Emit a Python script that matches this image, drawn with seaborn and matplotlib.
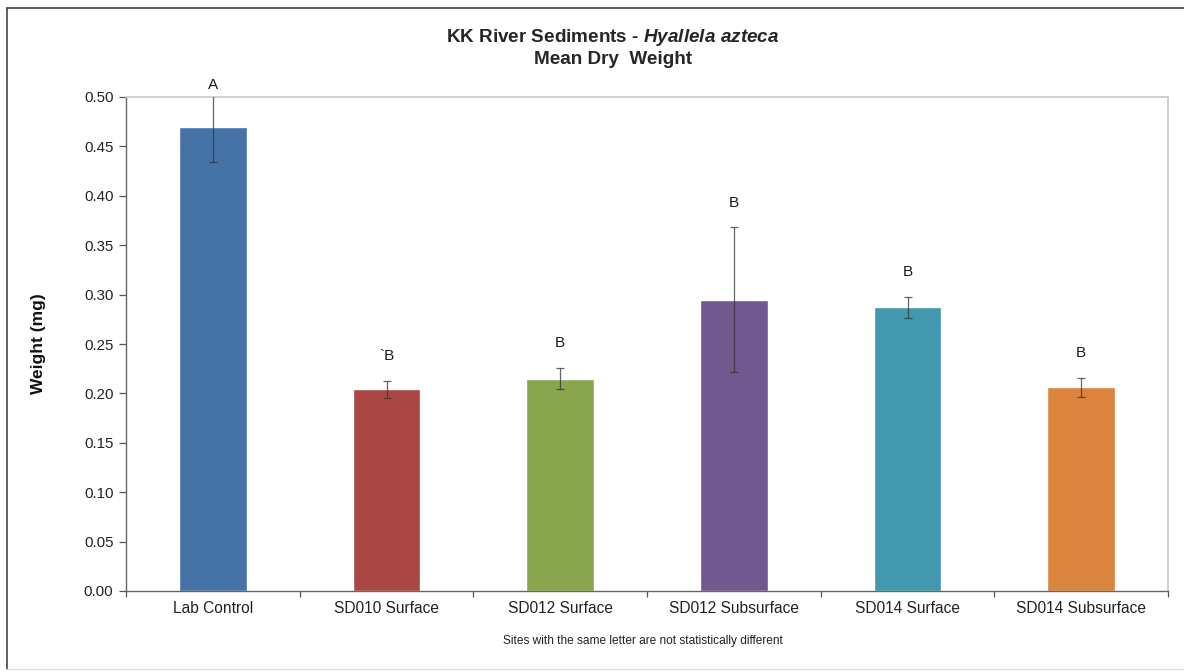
import matplotlib
matplotlib.use("Agg")
import matplotlib.pyplot as plt
from matplotlib.lines import Line2D
import seaborn as sns
import pandas as pd
import numpy as np

# Site data: mean dry weight (mg) with standard error and significance letters
sites = ["Lab Control", "SD010 Surface", "SD012 Surface", "SD012 Subsurface",
         "SD014 Surface", "SD014 Subsurface"]
mean_weight = [0.470, 0.204, 0.215, 0.295, 0.287, 0.206]
std_err = [0.036, 0.009, 0.011, 0.073, 0.011, 0.010]
letters = ["A", "`B", "B", "B", "B", "B"]
y_ticks = [0.00, 0.05, 0.10, 0.15, 0.20, 0.25, 0.30, 0.35, 0.40, 0.45, 0.50]

colors = ["#4572A7", "#AA4643", "#89A54E", "#71588F", "#4198AF", "#DB843D"]

sns.set_style("white")
plt.rcParams["font.family"] = ["Liberation Sans", "DejaVu Sans"]
plt.rcParams["mathtext.fontset"] = "custom"
plt.rcParams["mathtext.it"] = "Liberation Sans:italic:bold"
plt.rcParams["mathtext.rm"] = "Liberation Sans:bold"

df = pd.DataFrame({"site": sites, "weight": mean_weight})

fig = plt.figure(figsize=(11.84, 6.72), dpi=100)
ax = fig.add_axes([126 / 1184, 1 - 591 / 672, (1168 - 126) / 1184, (591 - 97) / 672])

sns.barplot(data=df, x="site", y="weight", hue="site", palette=colors,
            width=0.39, saturation=1, legend=False, ax=ax)

x = np.arange(len(sites))
ax.errorbar(x, mean_weight, yerr=std_err, fmt="none", ecolor="#333333",
            elinewidth=0.9, capsize=3, capthick=0.9, alpha=0.75, zorder=5)

for xi, m, e, lab in zip(x, mean_weight, std_err, letters):
    ly = min(m + e + 0.025, 0.512)
    ax.text(xi, ly, lab, ha="center", va="center", fontsize=11, color="#1a1a1a",
            clip_on=False)

ax.set_xlim(-0.5, len(sites) - 0.5)
ax.set_ylim(0, 0.5)
ax.set_yticks(y_ticks)
ax.set_yticklabels([f"{v:.2f}" for v in y_ticks], fontsize=10.8, color="#222222")
ax.set_xticks(x)
ax.set_xticklabels(sites, fontsize=11.2, color="#222222")
ax.tick_params(axis="x", length=0, pad=7)
ax.tick_params(axis="y", direction="out", length=5, width=0.9, color="#555555",
               left=True, pad=4)
# short tick marks between categories
ax.set_xticks(np.arange(-0.5, len(sites)), minor=True)
ax.tick_params(axis="x", which="minor", direction="out", length=4, width=0.9,
               color="#555555", bottom=True)

ax.set_xlabel("")
ax.set_ylabel("Weight (mg)", fontsize=12.5, fontweight="bold", labelpad=27,
              color="#111111")

for side in ["left", "bottom"]:
    ax.spines[side].set_color("#666666")
    ax.spines[side].set_linewidth(1.0)
for side in ["top", "right"]:
    ax.spines[side].set_color("#c8c8c8")
    ax.spines[side].set_linewidth(1.2)

fig.text(613 / 1184, 1 - 38 / 672, "KK River Sediments - $Hyallela\\ azteca$",
         ha="center", va="center", fontsize=13.6, fontweight="bold")
fig.text(613 / 1184, 1 - 59 / 672, "Mean Dry  Weight", ha="center", va="center",
         fontsize=13.6, fontweight="bold")
fig.text(643 / 1184, 1 - 641 / 672,
         "Sites with the same letter are not statistically different",
         ha="center", va="center", fontsize=8.6, color="#222222")

# outer chart frame
fig.add_artist(Line2D([7 / 1184, 7 / 1184], [1 - 8 / 672, 1 - 669 / 672],
                      transform=fig.transFigure, color="#444444", lw=1.2))
fig.add_artist(Line2D([7 / 1184, 1.0], [1 - 8 / 672, 1 - 8 / 672],
                      transform=fig.transFigure, color="#444444", lw=1.2))
fig.add_artist(Line2D([7 / 1184, 1.0], [1 - 669 / 672, 1 - 669 / 672],
                      transform=fig.transFigure, color="#dddddd", lw=1.0))

fig.savefig("out.png", dpi=100, facecolor="white")
